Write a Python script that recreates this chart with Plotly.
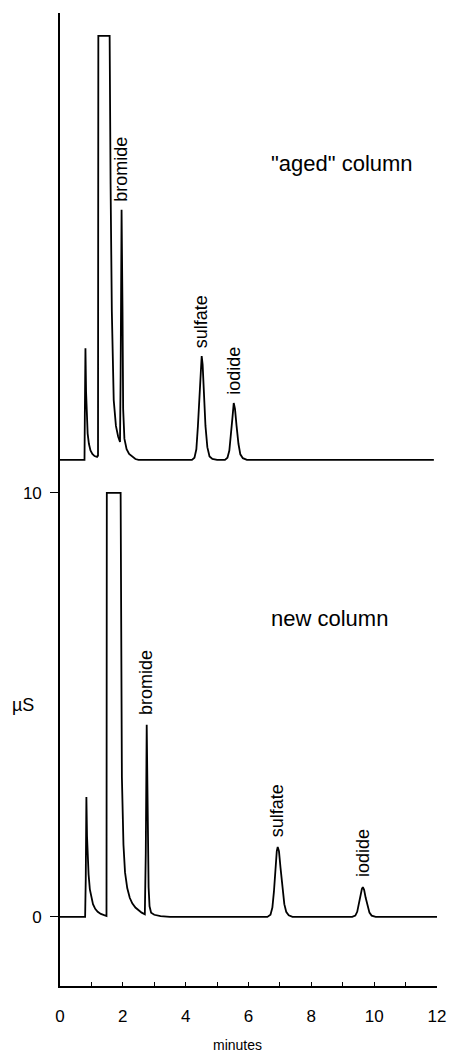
import plotly.graph_objects as go

# ---- data ----
# new column (µS vs minutes)
NEW_T = [0.00, 0.80, 0.82, 0.84, 0.86, 0.88, 0.91, 0.95, 1.00, 1.05, 1.12, 1.20, 1.30, 1.40, 1.48,
         1.49, 1.93, 1.97, 2.02, 2.07, 2.14, 2.22, 2.30, 2.40, 2.50, 2.60, 2.70,
         2.73, 2.76, 2.79, 2.82, 2.85, 2.90, 3.00, 3.20, 3.50,
         6.60, 6.70, 6.76, 6.81, 6.86, 6.90, 6.93, 6.97, 7.02, 7.08, 7.14, 7.20, 7.28, 7.40,
         9.30, 9.40, 9.46, 9.51, 9.56, 9.61, 9.64, 9.68, 9.73, 9.79, 9.85, 9.92, 10.05, 12.00]
NEW_US = [0, 0, 0.9, 2.83, 1.9, 1.42, 1.0, 0.65, 0.42, 0.30, 0.19, 0.12, 0.07, 0.04, 0.02,
          10.0, 10.0, 3.3, 1.7, 1.05, 0.68, 0.45, 0.32, 0.22, 0.15, 0.10, 0.06,
          1.5, 4.53, 2.2, 0.7, 0.25, 0.10, 0.05, 0.02, 0,
          0, 0.05, 0.22, 0.6, 1.15, 1.55, 1.65, 1.55, 1.15, 0.65, 0.30, 0.12, 0.04, 0,
          0, 0.03, 0.12, 0.30, 0.50, 0.66, 0.70, 0.64, 0.45, 0.24, 0.10, 0.03, 0, 0]

# "aged" column (µS above its own baseline, minutes)
AGED_T = [0.00, 0.78, 0.79, 0.81, 0.83, 0.85, 0.88, 0.92, 0.97, 1.03, 1.10, 1.18, 1.21,
          1.22, 1.58, 1.61, 1.65, 1.71, 1.78, 1.85, 1.91, 1.93, 1.96, 1.99, 2.01, 2.05,
          2.12, 2.20, 2.30, 2.40, 2.50,
          4.20, 4.28, 4.34, 4.39, 4.44, 4.48, 4.51, 4.54, 4.58, 4.63, 4.69, 4.76, 4.85, 5.00,
          5.25, 5.33, 5.39, 5.44, 5.49, 5.53, 5.57, 5.62, 5.68, 5.74, 5.82, 5.95, 11.90]
AGED_US = [0, 0, 1.0, 2.63, 1.6, 1.0, 0.62, 0.38, 0.22, 0.14, 0.09, 0.07, 0.10,
           10.0, 10.0, 6.5, 3.5, 1.41, 0.8, 0.55, 0.42, 2.0, 5.9, 3.5, 1.2, 0.5,
           0.25, 0.14, 0.07, 0.02, 0,
           0, 0.05, 0.25, 0.8, 1.6, 2.25, 2.45, 2.25, 1.6, 0.8, 0.3, 0.08, 0.02, 0,
           0, 0.05, 0.22, 0.55, 1.0, 1.34, 1.2, 0.8, 0.38, 0.13, 0.04, 0, 0]
AGED_OFFSET = 10.78

PEAK_NAMES = ["bromide", "sulfate", "iodide"]
NEW_PEAK_T = [2.76, 6.93, 9.64]
NEW_PEAK_US = [4.53, 1.65, 0.70]
AGED_PEAK_T = [1.96, 4.51, 5.53]
AGED_PEAK_US = [5.9, 2.45, 1.34]

X_TICKS = [0, 2, 4, 6, 8, 10, 12]
X_TICK_LABELS = ["0", "2", "4", "6", "8", "10", "12"]
Y_TICKS = [0, 10]
Y_TICK_LABELS = ["0", "10"]

FONT = "Liberation Sans, Arial, Helvetica, sans-serif"
LINE = dict(color="black", width=1.8)

fig = go.Figure()
fig.add_trace(go.Scatter(x=NEW_T, y=NEW_US, mode="lines", line=LINE,
                         hoverinfo="skip", showlegend=False))
fig.add_trace(go.Scatter(x=AGED_T, y=[v + AGED_OFFSET for v in AGED_US], mode="lines",
                         line=LINE, hoverinfo="skip", showlegend=False))

annotations = []
for name, t, v in zip(PEAK_NAMES, NEW_PEAK_T, NEW_PEAK_US):
    annotations.append(dict(x=t, y=v, xref="x", yref="y", text=name, showarrow=False,
                            textangle=-90, xanchor="center", yanchor="bottom", yshift=8,
                            font=dict(family=FONT, size=18, color="black")))
for name, t, v in zip(PEAK_NAMES, AGED_PEAK_T, AGED_PEAK_US):
    annotations.append(dict(x=t, y=v + AGED_OFFSET, xref="x", yref="y", text=name,
                            showarrow=False, textangle=-90, xanchor="center",
                            yanchor="bottom", yshift=6,
                            font=dict(family=FONT, size=18, color="black")))

annotations.append(dict(x=6.65, y=17.78, xref="x", yref="y", text='"aged" column',
                        showarrow=False, xanchor="left", yanchor="middle",
                        font=dict(family=FONT, size=22, color="black")))
annotations.append(dict(x=6.65, y=7.05, xref="x", yref="y", text="new column",
                        showarrow=False, xanchor="left", yanchor="middle",
                        font=dict(family=FONT, size=22, color="black")))
annotations.append(dict(x=-0.098, y=5.0, xref="paper", yref="y", text="µS",
                        showarrow=False, xanchor="center", yanchor="middle",
                        font=dict(family=FONT, size=18, color="black")))
annotations.append(dict(x=5.65, y=-0.0606, xref="x", yref="paper", text="minutes",
                        showarrow=False, xanchor="center", yanchor="middle",
                        font=dict(family=FONT, size=14, color="black")))

fig.update_layout(
    width=458, height=1059, autosize=False,
    margin=dict(l=60, r=12, t=13, b=73, pad=0),
    paper_bgcolor="white", plot_bgcolor="white",
    annotations=annotations,
    font=dict(family=FONT, size=16, color="black"),
)
fig.update_xaxes(range=[0, 12], showgrid=False, zeroline=False, showline=True,
                 linecolor="black", linewidth=1.6, ticks="inside", ticklen=4,
                 tickwidth=1.4, tickcolor="black",
                 tickvals=X_TICKS, ticktext=X_TICK_LABELS, ticklabelstandoff=14,
                 minor=dict(dtick=1, ticks="inside", ticklen=4, tickcolor="black",
                            tickwidth=1.4, showgrid=False),
                 tickfont=dict(family=FONT, size=17, color="black"))
fig.update_yaxes(range=[-1.63, 21.32], showgrid=False, zeroline=False, showline=True,
                 linecolor="black", linewidth=1.6, ticks="outside", ticklen=8,
                 tickwidth=1.4, tickcolor="black",
                 tickvals=Y_TICKS, ticktext=Y_TICK_LABELS, ticklabelstandoff=5,
                 tickfont=dict(family=FONT, size=17, color="black"))

fig.write_html("out.html")
